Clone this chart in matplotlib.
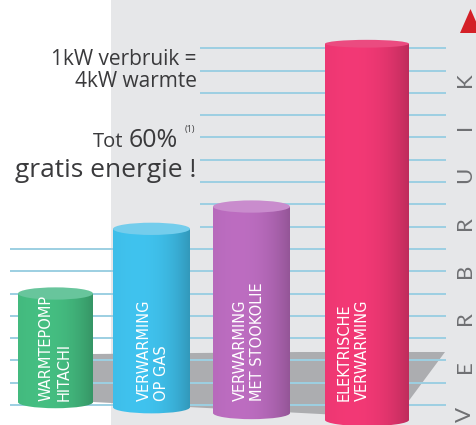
import numpy as np
import matplotlib.pyplot as plt
from matplotlib.patches import Rectangle, Ellipse, Polygon
from matplotlib.colors import to_rgb

# data (bar heights in grid units)
labels = ["WARMTEPOMP\nHITACHI", "VERWARMING\nOP GAS",
          "VERWARMING\nMET STOOKOLIE", "ELEKTRISCHE\nVERWARMING"]
values = [5.0, 7.9, 8.9, 16.2]
grid_levels = list(range(0, 17))
axis_word = "VERBRUIK"

# style / layout
colors = ["#42b67c", "#3dbae4", "#b468b8", "#e83670"]
top_colors = ["#68c59c", "#74cdec", "#c98ccd", "#eb4b80"]
bar_left = [18, 113, 213, 325]
bar_width = [75, 77, 77, 84]
bar_bottom = [0.13, -0.1, -0.36, -0.67]
top_ell = [0.55, 0.55, 0.55, 0.35]
label_x = [55, 153, 249, 353]

PX = 22.3   # pixels per grid unit
BASE = 405  # pixel row of level 0


def v(py):
    return (BASE - py) / PX


fig = plt.figure(figsize=(4.77, 4.25), dpi=100)
ax = fig.add_axes([0, 0, 1, 1])
ax.set_xlim(0, 477)
ax.set_ylim(v(425), v(0))
ax.axis("off")

# grey backdrop on the right
ax.add_patch(Rectangle((111, v(425)), 477 - 111, v(0) - v(425),
                       color="#e6e7e9", lw=0, zorder=0))

# floor shadow
floor = [(93, 354), (300, 352), (445, 352), (396, 418), (93, 402)]
ax.add_patch(Polygon([(x, v(y)) for x, y in floor], closed=True,
                     color="#acadb0", lw=0, zorder=1))

# grid lines
for k in grid_levels:
    xmin = 200 if k >= 8 else 10
    ax.hlines(k, xmin, 446, color="#9ccfe2", lw=1.4, zorder=2)

# cylinders
for i in range(len(values)):
    x0, w = bar_left[i], bar_width[i]
    b, t = bar_bottom[i], values[i]
    eh = top_ell[i]
    c = np.array(to_rgb(colors[i]))
    s = np.linspace(0, 1, 200)
    f = 1.02 + 0.04 * np.sin(np.pi * s) - 0.2 * s ** 3
    grad = np.clip(c[None, :] * f[:, None], 0, 1)[None, :, :]

    body = Rectangle((x0, b), w, t - b, transform=ax.transData)
    foot = Ellipse((x0 + w / 2, b), w, 0.55, transform=ax.transData)
    for clip in (body, foot):
        im = ax.imshow(grad, extent=[x0, x0 + w, b - 0.4, t], aspect="auto",
                       zorder=3, interpolation="bilinear")
        im.set_clip_path(clip)
    ax.add_patch(Ellipse((x0 + w / 2, t), w, eh, color=top_colors[i],
                         lw=0, zorder=4))
    ax.text(label_x[i], v(401), labels[i], rotation=90, rotation_mode="anchor",
            ha="left", va="center", multialignment="left", color="white",
            fontsize=10.5, family=["Liberation Sans Narrow", "DejaVu Sans"],
            linespacing=1.25, zorder=5)

# side captions
txt = dict(color="#3a3a3c", family=["Open Sans", "DejaVu Sans"], va="baseline", ha="right")
ax.text(197, v(65), "1kW verbruik =", fontsize=15, **txt)
ax.text(197, v(87), "4kW warmte", fontsize=15, **txt)
ax.text(123, v(147), "Tot", fontsize=14.5, **txt)
ax.text(178, v(147), "60%", fontsize=18, **txt)
ax.text(195, v(132), "(1)", fontsize=6.5, **txt)
ax.text(197, v(177), "gratis energie !", fontsize=19, **txt)

# vertical axis word + arrow head
for i, ch in enumerate(axis_word):
    ax.text(465, v(414 - i * 47.8), ch, rotation=90, ha="center", va="center",
            color="#6f7073", fontsize=16, family=["Lato", "DejaVu Sans"],
            zorder=5)
ax.add_patch(Polygon([(460, v(33)), (481, v(33)), (470.5, v(9))], closed=True,
                     color="#d42027", lw=0, zorder=5, clip_on=False))

ax.set_xlim(0, 477)
ax.set_ylim(v(425), v(0))
fig.savefig("out.png", dpi=100)
